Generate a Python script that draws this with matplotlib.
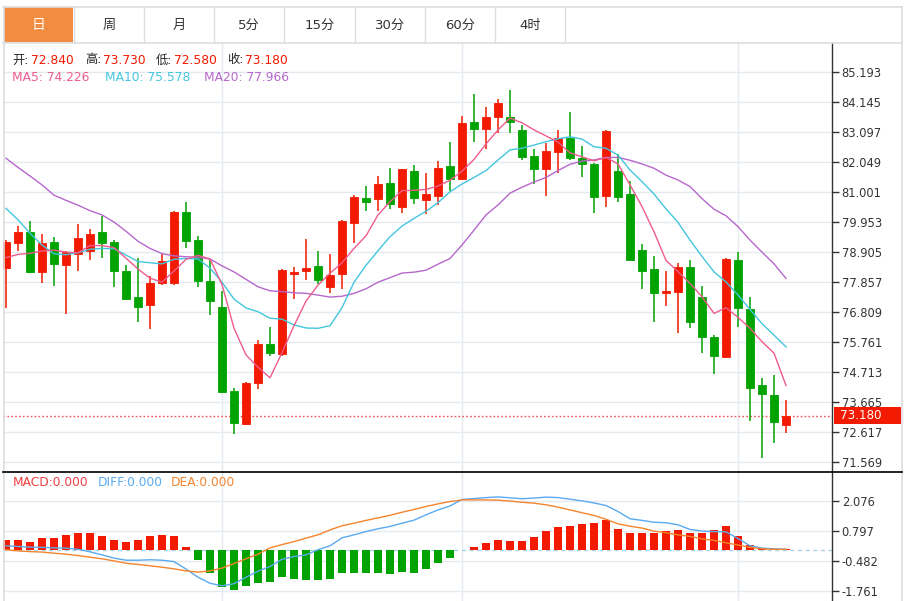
import matplotlib
matplotlib.use('Agg')
import matplotlib.pyplot as plt
from matplotlib.patches import Rectangle
from matplotlib.lines import Line2D
import matplotlib.transforms as mtrans
import numpy as np

plt.rcParams['font.family'] = ['DejaVu Sans', 'Noto Sans CJK SC']

# ---------------- data ----------------
tabs = ['日', '周', '月', '5分', '15分', '30分', '60分', '4时']

opens = [78.34, 79.21, 79.59, 78.20, 79.24, 78.44, 78.83, 78.93, 79.59, 79.24,
         78.23, 77.32, 77.04, 77.81, 77.81, 80.29, 79.31, 77.88, 76.97, 74.04,
         72.89, 74.32, 75.68, 75.33, 78.13, 78.23, 78.41, 77.67, 78.13, 79.91,
         80.78, 80.75, 81.31, 80.47, 81.72, 80.71, 80.85, 81.90, 81.45, 83.44,
         83.19, 83.61, 83.61, 83.16, 82.25, 81.79, 82.39, 82.88, 82.18, 81.97,
         80.85, 81.72, 80.92, 78.97, 78.30, 77.46, 77.50, 78.37, 77.32, 75.93,
         75.23, 78.62, 76.90, 74.25, 73.90, 72.84]
highs = [79.31, 79.80, 79.98, 79.52, 79.42, 78.93, 79.87, 79.70, 80.15, 79.31,
         78.44, 78.69, 78.06, 78.83, 80.32, 80.64, 79.45, 78.62, 77.53, 74.14,
         74.35, 75.82, 76.28, 78.30, 78.37, 79.35, 78.93, 78.83, 80.01, 80.89,
         81.20, 81.55, 81.83, 81.81, 81.93, 81.66, 82.07, 82.74, 83.65, 84.41,
         83.96, 84.24, 84.55, 83.33, 82.49, 82.70, 83.16, 83.79, 82.60, 82.00,
         83.14, 82.32, 81.38, 79.17, 78.76, 78.23, 78.51, 78.62, 77.71, 76.00,
         78.69, 78.90, 77.32, 74.49, 74.60, 73.73]
lows = [76.94, 78.93, 78.16, 77.81, 77.71, 76.73, 78.23, 78.62, 78.69, 77.67,
        77.22, 76.45, 76.21, 77.74, 77.74, 79.04, 77.67, 76.69, 73.98, 72.54,
        72.85, 74.11, 75.26, 75.26, 77.25, 77.92, 77.78, 77.46, 77.60, 79.21,
        80.33, 80.33, 80.40, 80.26, 80.57, 80.22, 80.54, 81.03, 81.42, 82.74,
        82.49, 83.05, 83.05, 82.11, 81.27, 80.85, 81.66, 82.11, 81.52, 80.26,
        80.47, 80.64, 78.60, 77.60, 76.45, 77.01, 76.07, 76.24, 75.37, 74.63,
        75.19, 76.28, 72.99, 71.70, 72.22, 72.58]
closes = [79.24, 79.59, 78.20, 79.21, 78.48, 78.90, 79.38, 79.52, 79.21, 78.23,
          77.25, 76.97, 77.81, 78.58, 80.29, 79.28, 77.88, 77.18, 74.00, 72.92,
          74.32, 75.68, 75.37, 78.27, 78.20, 78.34, 77.92, 78.09, 79.98, 80.82,
          80.64, 81.27, 80.57, 81.79, 80.78, 80.92, 81.83, 81.45, 83.40, 83.19,
          83.61, 84.10, 83.44, 82.21, 81.79, 82.42, 82.88, 82.18, 81.97, 80.82,
          83.12, 80.82, 78.62, 78.23, 77.46, 77.53, 78.37, 76.45, 75.93, 75.26,
          78.65, 76.94, 74.14, 73.93, 72.96, 73.18]

ma5 = [78.70, 78.81, 78.85, 78.93, 78.96, 78.89, 78.87, 79.12, 79.12, 79.05,
       78.68, 78.30, 77.98, 77.84, 78.23, 78.64, 78.78, 78.65, 77.76, 76.23,
       75.30, 74.87, 74.50, 75.38, 76.32, 77.18, 77.74, 78.15, 78.52, 79.02,
       79.46, 80.19, 80.65, 81.04, 81.05, 81.08, 81.20, 81.40, 81.72, 82.13,
       82.67, 83.16, 83.57, 83.41, 83.16, 82.95, 82.73, 82.36, 82.22, 82.08,
       82.20, 81.97, 81.24, 80.48, 79.60, 78.60, 78.21, 77.80, 77.33, 76.75,
       76.95, 76.61, 76.23, 75.76, 75.36, 74.23]
ma10 = [80.42, 80.02, 79.55, 79.14, 78.83, 78.80, 78.87, 78.99, 79.02, 79.01,
        78.79, 78.56, 78.52, 78.48, 78.64, 78.67, 78.65, 78.33, 77.84, 77.25,
        76.94, 76.81, 76.58, 76.55, 76.35, 76.24, 76.23, 76.32, 76.95, 77.84,
        78.43, 78.94, 79.43, 79.80, 80.07, 80.32, 80.62, 81.00, 81.27, 81.50,
        81.74, 82.11, 82.46, 82.52, 82.63, 82.75, 82.85, 82.92, 82.84, 82.57,
        82.52, 82.28, 81.76, 81.35, 80.92, 80.40, 79.93, 79.31, 78.74, 78.20,
        77.85, 77.39, 76.89, 76.39, 75.99, 75.58]
ma20 = [82.17, 81.85, 81.55, 81.24, 80.88, 80.70, 80.53, 80.34, 80.19, 79.94,
        79.62, 79.27, 79.02, 78.84, 78.76, 78.73, 78.71, 78.65, 78.41, 78.20,
        77.94, 77.68, 77.54, 77.51, 77.47, 77.45, 77.39, 77.32, 77.35, 77.45,
        77.61, 77.84, 78.00, 78.16, 78.19, 78.26, 78.47, 78.67, 79.14, 79.66,
        80.19, 80.54, 80.95, 81.16, 81.34, 81.50, 81.74, 81.96, 82.07, 82.11,
        82.20, 82.20, 82.10, 81.97, 81.82, 81.58, 81.41, 81.18, 80.76, 80.39,
        80.16, 79.78, 79.31, 78.89, 78.48, 77.97]

macd_hist = [0.39, 0.42, 0.34, 0.50, 0.50, 0.63, 0.72, 0.69, 0.57, 0.42,
             0.33, 0.42, 0.57, 0.64, 0.59, 0.09, -0.47, -1.00, -1.60, -1.72,
             -1.58, -1.45, -1.40, -1.17, -1.27, -1.33, -1.32, -1.26, -1.03, -0.99,
             -1.02, -1.00, -1.05, -0.95, -0.99, -0.83, -0.57, -0.38, -0.01, 0.11,
             0.29, 0.40, 0.37, 0.37, 0.54, 0.80, 0.97, 1.02, 1.09, 1.13,
             1.27, 0.90, 0.69, 0.70, 0.73, 0.80, 0.84, 0.69, 0.73, 0.82,
             1.02, 0.59, 0.19, 0.07, 0.03, 0.01]
diff = [0.16, 0.13, 0.10, 0.09, 0.07, 0.06, 0.01, -0.10, -0.23, -0.37,
        -0.46, -0.46, -0.44, -0.46, -0.52, -0.84, -1.19, -1.45, -1.56, -1.47,
        -1.19, -0.93, -0.73, -0.42, -0.30, -0.23, -0.01, 0.16, 0.50, 0.63,
        0.77, 0.89, 0.99, 1.13, 1.26, 1.49, 1.70, 1.87, 2.15, 2.19,
        2.23, 2.26, 2.22, 2.18, 2.21, 2.25, 2.23, 2.16, 2.09, 2.00,
        1.89, 1.63, 1.32, 1.25, 1.17, 1.15, 1.06, 0.86, 0.79, 0.77,
        0.76, 0.47, 0.16, 0.06, 0.03, 0.01]
dea = [-0.01, -0.06, -0.09, -0.11, -0.16, -0.20, -0.26, -0.33, -0.40, -0.49,
       -0.59, -0.64, -0.70, -0.76, -0.83, -0.92, -0.97, -0.92, -0.80, -0.60,
       -0.40, -0.20, 0.07, 0.21, 0.34, 0.49, 0.63, 0.84, 1.02, 1.13,
       1.25, 1.36, 1.47, 1.60, 1.72, 1.85, 1.96, 2.06, 2.13, 2.13,
       2.13, 2.12, 2.08, 2.03, 1.99, 1.92, 1.82, 1.70, 1.58, 1.46,
       1.30, 1.10, 1.00, 0.92, 0.79, 0.72, 0.63, 0.56, 0.46, 0.39,
       0.29, 0.19, 0.09, 0.03, 0.01, 0.01]

price_ticks = [85.193, 84.145, 83.097, 82.049, 81.001, 79.953, 78.905,
               77.857, 76.809, 75.761, 74.713, 73.665, 72.617, 71.569]
macd_ticks = [2.076, 0.797, -0.482, -1.761]
vgrid_idx = [18, 38, 61]

last_open, last_high, last_low, last_close = 72.840, 73.730, 72.580, 73.180
last_ma5, last_ma10, last_ma20 = 74.226, 75.578, 77.966
last_macd, last_diff, last_dea = 0.000, 0.000, 0.000

# ---------------- style ----------------
RED = '#f21a00'
GREEN = '#00a300'
C_MA5 = '#ef5b8f'
C_MA10 = '#42c6de'
C_MA20 = '#b767cc'
C_DIFF = '#5aaaf0'
C_DEA = '#f5842c'
GRID = '#e4eaef'
AXC = '#333333'
BORDER = '#dddddd'

W, H = 911, 601
fig = plt.figure(figsize=(W / 100, H / 100), dpi=100)
fig.patch.set_facecolor('white')

def frac_box(x0, y0, x1, y1):
    return [x0 / W, 1 - y1 / H, (x1 - x0) / W, (y1 - y0) / H]

ax = fig.add_axes(frac_box(3, 43, 832, 471))
axm = fig.add_axes(frac_box(3, 471, 832, 601))

n = len(closes)
x = np.arange(n)

for a in (ax, axm):
    a.set_xlim(-0.25, 68.83)
    a.set_facecolor('white')
    a.yaxis.tick_right()
    a.tick_params(axis='y', direction='out', length=5, width=1, colors=AXC,
                  labelsize=8.3, pad=2)
    a.tick_params(axis='x', bottom=False, labelbottom=False)
    for s in ('top', 'bottom', 'left'):
        a.spines[s].set_visible(False)
    a.spines['right'].set_color(AXC)
    a.spines['right'].set_linewidth(1)
    for vi in vgrid_idx:
        a.axvline(vi, color=GRID, lw=1, zorder=0)

# ---- main panel ----
ax.set_ylim(71.245, 86.196)
ax.set_yticks(price_ticks)
ax.set_yticklabels([f'{t:.3f}' for t in price_ticks])
for t in price_ticks:
    ax.axhline(t, color=GRID, lw=1, zorder=0)

bw = 0.72
for i in range(n):
    o, h, l, c = opens[i], highs[i], lows[i], closes[i]
    col = RED if c >= o else GREEN
    ax.vlines(x[i], l, h, color=col, lw=1.1, zorder=3)
    bottom = min(o, c)
    height = max(abs(c - o), 0.04)
    ax.add_patch(Rectangle((x[i] - bw / 2, bottom), bw, height,
                           facecolor=col, edgecolor=col, lw=0.6, zorder=4))

ax.plot(x, ma20, color=C_MA20, lw=1, zorder=5)
ax.plot(x, ma10, color=C_MA10, lw=1, zorder=5)
ax.plot(x, ma5, color=C_MA5, lw=1, zorder=5)

ax.axhline(last_close, color='#f25050', lw=1, ls=(0, (1.2, 1.6)), zorder=2)

blend = mtrans.blended_transform_factory(ax.transAxes, ax.transData)
ax.add_patch(Rectangle((1.0024, last_close - 0.31), 67.5 / 829, 0.62,
                       transform=blend, facecolor=RED, edgecolor='none',
                       clip_on=False, zorder=6))
ax.text(1.0 + 8 / 829, last_close, f'{last_close:.3f}', transform=blend,
        color='white', fontsize=8.6, va='center', ha='left', zorder=7,
        clip_on=False)

# ---- MACD panel ----
axm.set_ylim(-2.212, 3.372)
axm.set_yticks(macd_ticks)
axm.set_yticklabels([f'{t:.3f}' for t in macd_ticks])
for t in macd_ticks:
    axm.axhline(t, color=GRID, lw=1, zorder=0)
axm.axhline(0, color='#a9d4e8', lw=1, ls=(0, (3, 2.5)), zorder=1)
hcols = [RED if v >= 0 else GREEN for v in macd_hist]
axm.bar(x, macd_hist, width=0.72, color=hcols, zorder=3)
axm.plot(x, diff, color=C_DIFF, lw=1, zorder=4)
axm.plot(x, dea, color=C_DEA, lw=1, zorder=4)

# ---- overlay: tabs, borders, legends ----
ov = fig.add_axes([0, 0, 1, 1], zorder=10)
ov.set_xlim(0, W)
ov.set_ylim(H, 0)
ov.axis('off')
ov.patch.set_alpha(0)

tab_w = 70.2
for k, lab in enumerate(tabs):
    x0 = 3.5 + k * tab_w
    if k == 0:
        ov.add_patch(Rectangle((x0, 7), tab_w - 0.5, 35, facecolor='#f28c40',
                               edgecolor='#f28c40', lw=0))
        ov.text(x0 + tab_w / 2, 25, lab, color='white', fontsize=10,
                ha='center', va='center')
    else:
        ov.text(x0 + tab_w / 2, 25, lab, color='#333333', fontsize=9.5,
                ha='center', va='center')
    ov.add_line(Line2D([x0 + tab_w, x0 + tab_w], [7, 42], color=BORDER, lw=1))

for (xs, ys) in [([3, 902], [6.5, 6.5]), ([3, 902], [42.5, 42.5]),
                 ([3.5, 3.5], [6.5, 601]), ([902, 902], [6.5, 601])]:
    ov.add_line(Line2D(xs, ys, color=BORDER, lw=1.2))
ov.add_line(Line2D([3, 902], [471.5, 471.5], color='#111111', lw=1.3))

fs = 8.8
def seg(xp, yp, s, c):
    ov.text(xp, yp, s, color=c, fontsize=fs, ha='left', va='center')

y1 = 60
seg(12, y1, '开:', '#222222'); seg(31, y1, f'{last_open:.3f}', RED)
seg(85, y1, '高:', '#222222'); seg(103, y1, f'{last_high:.3f}', RED)
seg(156, y1, '低:', '#222222'); seg(174, y1, f'{last_low:.3f}', RED)
seg(227, y1, '收:', '#222222'); seg(245, y1, f'{last_close:.3f}', RED)

y2 = 77.5
seg(12, y2, f'MA5: {last_ma5:.3f}', C_MA5)
seg(105, y2, f'MA10: {last_ma10:.3f}', C_MA10)
seg(204, y2, f'MA20: {last_ma20:.3f}', C_MA20)

y3 = 483
seg(13, y3, f'MACD:{last_macd:.3f}', '#f04040')
seg(98, y3, f'DIFF:{last_diff:.3f}', C_DIFF)
seg(171, y3, f'DEA:{last_dea:.3f}', C_DEA)

fig.savefig('out.png', dpi=100, facecolor='white')
